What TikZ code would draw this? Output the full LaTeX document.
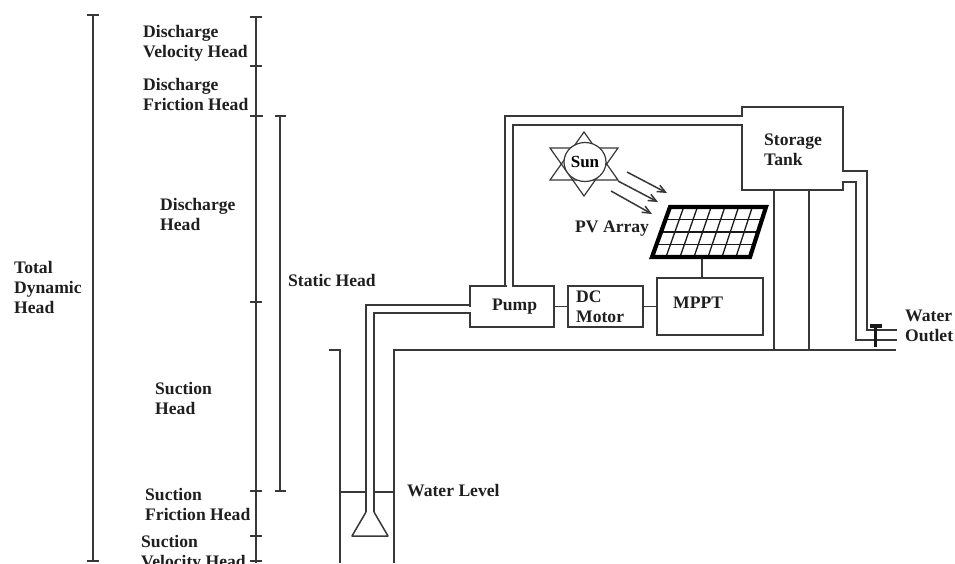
\documentclass[tikz,border=0pt]{standalone}
\usepackage{fontspec}
\setmainfont{Liberation Serif}
\usetikzlibrary{arrows.meta,calc,shapes.geometric}
\tikzset{
  ln/.style={draw=black!78,line width=1.5pt},
  lab/.style={font=\fontsize{17.6}{20}\selectfont\bfseries,text=black!88,align=left,inner sep=0pt,anchor=west},
  shp/.style={ln,fill=white,inner sep=0pt},
  arw/.style={ln,-{Straight Barb[length=8pt,width=7pt]}}
}
\begin{document}
\begin{tikzpicture}[x=1pt,y=-1pt]
\useasboundingbox (0,0) rectangle (955,563);
\begin{scope}
\clip (0,0) rectangle (955,563);
% dimension scales
\coordinate (t1) at (93,15); \coordinate (t2) at (93,561);
\draw[ln] (t1) -- (t2);
\draw[ln] (87,15) -- (99,15) (87,561) -- (99,561);
\coordinate (r1) at (256,17); \coordinate (r2) at (256,563);
\draw[ln] (r1) -- (r2);
\draw[ln] (250,17) -- (262,17) (250,66) -- (262,66) (250,116) -- (263,116)
 (250,302) -- (262,302) (250,491) -- (262,491) (250,536) -- (262,536) (250,561) -- (262,561);
\coordinate (s1) at (280,116); \coordinate (s2) at (280,491);
\draw[ln] (s1) -- (s2) (275,116) -- (286,116) (275,491) -- (286,491);
% ground and well
\coordinate (g1) at (394,563); \coordinate (g2) at (394,350); \coordinate (g3) at (896,350);
\draw[ln] (g1) -- (g2) -- (g3);
\coordinate (w1) at (329,350); \coordinate (w2) at (340,350); \coordinate (w3) at (340,563);
\draw[ln] (w1) -- (w2) -- (w3);
\draw[ln] (340,492) -- (366,492) (374,492) -- (394,492);
% boxes
\node[shp,minimum width=84pt,minimum height=41pt] (pump) at (512,306.5) {};
\node[shp,minimum width=75pt,minimum height=41pt] (dc) at (605.5,306.5) {};
\node[shp,minimum width=106pt,minimum height=57pt] (mppt) at (710,306.5) {};
\draw[ln] (pump.east) -- (dc.west);
\draw[ln] (dc.east) -- (mppt.west);
% pipes
\draw[white,line width=2.4pt] (470,306.5) -- (470,311.5);
\draw[white,line width=2.4pt] (506.5,286) -- (511.5,286);
\draw[ln] (366,512) -- (366,305) -- (470,305);
\draw[ln] (374,512) -- (374,313) -- (470,313);
\draw[ln,line join=round] (366,512) -- (352,536) -- (388,536) -- (374,512);
\draw[ln] (505,286) -- (505,116) -- (742,116) -- (742,107) -- (843,107) -- (843,171) -- (867,171) -- (867,330) -- (897,330);
\draw[ln] (513,286) -- (513,125) -- (742,125) -- (742,190) -- (843,190) -- (843,182) -- (856,182) -- (856,340) -- (897,340);
% tank legs
\draw[ln] (774,190) -- (774,350) (809,190) -- (809,350);
% tap
\fill[black!90] (873.6,325) rectangle (876.6,347);
\fill[black!90] (870,324.4) rectangle (882,327.6);
% sun
\draw[ln,line width=1.2pt] (584,132) -- (618,180) -- (550,180) -- cycle;
\draw[ln,line width=1.2pt] (584,196) -- (618,148) -- (550,148) -- cycle;
\node[ln,fill=white,line width=1.2pt,ellipse,minimum width=42pt,minimum height=39pt,inner sep=0pt,font=\fontsize{17}{20}\selectfont\bfseries] (sun) at (585,162) {Sun};
% rays
\coordinate (a1) at (627,172); \coordinate (b1) at (667,193);
\coordinate (a2) at (618,181); \coordinate (b2) at (658,202);
\coordinate (a3) at (611,191); \coordinate (b3) at (652,214);
\draw[arw] (a1) -- (b1);
\draw[arw] (a2) -- (b2);
\draw[arw] (a3) -- (b3);
% panel
\coordinate (p1) at (670,207); \coordinate (p2) at (766,207);
\coordinate (p3) at (750,257); \coordinate (p4) at (652,257);
\foreach \i in {1,...,6} \draw[draw=black!90,line width=1.3pt] ($(p1)!\i/7!(p2)$) -- ($(p4)!\i/7!(p3)$);
\foreach \i in {1,2,3} \draw[draw=black!90,line width=1.3pt] ($(p1)!\i/4!(p4)$) -- ($(p2)!\i/4!(p3)$);
\draw[draw=black,line width=4.2pt,line join=miter] (p1) -- (p2) -- (p3) -- (p4) -- cycle;
\coordinate (pb) at (702,259); \coordinate (pm) at (702,278);
\draw[ln] (pb) -- (pm);
\end{scope}
% labels
\node[lab] (l1) at (143,43.5) {Discharge\\Velocity Head};
\node[lab] (l2) at (143,94) {Discharge\\Friction Head};
\node[lab] (l3) at (160,214) {Discharge\\Head};
\node[lab] (l4) at (155,398) {Suction\\Head};
\node[lab] (l5) at (145,504) {Suction\\Friction Head};
\node[lab] (l6) at (141,553) {Suction\\Velocity Head};
\node[lab] (l7) at (14,287) {Total\\Dynamic\\Head};
\node[lab] (l8) at (288,280) {Static Head};
\node[lab] (l9) at (407,491) {Water Level};
\node[lab] (l10) at (575,229) {PV Array};
\node[lab] (l11) at (492,307) {Pump};
\node[lab] (l12) at (576,307) {DC\\Motor};
\node[lab] (l13) at (673,303) {MPPT};
\node[lab] (l14) at (764,150) {Storage\\Tank};
\node[lab] (l15) at (905,326) {Water\\Outlet};
\end{tikzpicture}
\end{document}
